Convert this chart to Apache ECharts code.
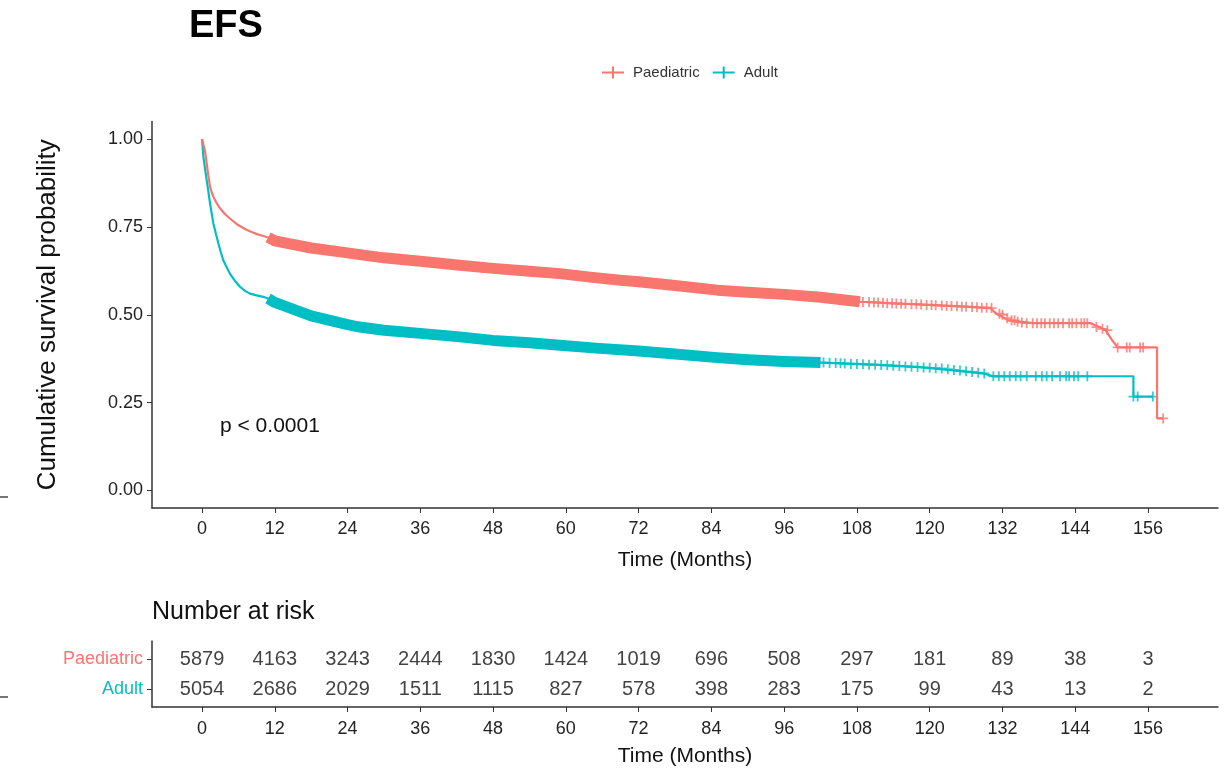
<!DOCTYPE html>
<html><head><meta charset="utf-8">
<script src="https://cdn.jsdelivr.net/npm/echarts@6/dist/echarts.min.js"></script>
<style>html,body{margin:0;padding:0;background:#fff}#c{width:1228px;height:773px}</style>
</head><body><div id="c"></div>
<script>
// ---------- data ----------
const timeTicks = [0,12,24,36,48,60,72,84,96,108,120,132,144,156];
const survTicks = [0,0.25,0.5,0.75,1];
const groups = ['Paediatric','Adult'];

const pedTime = [0,0.2,0.5,0.77,1.05,1.32,1.6,1.87,2.4,2.97,3.7,4.6,5.8,7.4,8.8,10.1,10.9,12,18,24,26,30,36,42.5,48,54,59,64,69,72,78,85,90,96,102,108.5,113,120,126,130,131,133,137,146.5,148,149,150,151,157.5,157.5,158.5];
const pedSurv = [1,0.997,0.965,0.931,0.895,0.864,0.848,0.836,0.818,0.803,0.788,0.774,0.757,0.741,0.731,0.724,0.72,0.71,0.69,0.676,0.671,0.662,0.652,0.641,0.632,0.624,0.617,0.607,0.598,0.594,0.583,0.57,0.564,0.558,0.55,0.537,0.533,0.528,0.523,0.519,0.503,0.484,0.476,0.476,0.465,0.456,0.43,0.407,0.407,0.205,0.205];

const adultTime = [0,0.22,0.5,0.77,1.05,1.32,1.6,1.87,2.3,2.7,3.1,3.5,4.6,5.4,6.3,7.1,7.9,9,10.1,10.9,12,18,24,26,30,36,42.5,48,54,59,65,72,78,85,90,96,102,108,113,118.4,123.4,128.8,130.5,153.6,153.6,156.8];
const adultSurv = [1,0.95,0.915,0.883,0.85,0.817,0.788,0.76,0.73,0.703,0.678,0.655,0.617,0.597,0.579,0.568,0.56,0.555,0.551,0.546,0.535,0.497,0.472,0.465,0.456,0.447,0.437,0.427,0.42,0.413,0.405,0.397,0.388,0.378,0.372,0.367,0.364,0.36,0.356,0.351,0.342,0.333,0.325,0.325,0.267,0.267];

// censoring marks (sparse part)
const pedCensTime = [109,110,110.8,111.5,112.3,113,113.8,114.5,115.3,116,117,117.8,118.6,119.5,120.3,121,122,122.8,123.6,124.5,125.3,126,127,127.8,128.6,129.4,130.2,131.5,132,132.8,133.5,134,134.5,135.2,136,137,137.7,138.4,139,139.8,140.5,141.2,142,143,143.5,144.2,145,145.5,146,147.5,148.5,149.3,151,152.5,153,154.7,155.2,158.5];
const pedCensSurv = [0.536,0.536,0.535,0.535,0.534,0.533,0.533,0.532,0.531,0.531,0.53,0.53,0.529,0.528,0.528,0.527,0.526,0.525,0.525,0.524,0.523,0.523,0.522,0.521,0.52,0.52,0.519,0.503,0.5,0.49,0.484,0.484,0.48,0.478,0.476,0.476,0.476,0.476,0.476,0.476,0.476,0.476,0.476,0.476,0.476,0.476,0.476,0.476,0.476,0.465,0.46,0.456,0.407,0.407,0.407,0.407,0.407,0.205];

const adultCensTime = [102.5,103.5,104.5,105.3,106,107,108,109,110,111,112,113,114,115,116,117,118,119,120,121,122,123,124,125,126,127,128,129,130.5,131.4,132.3,133.2,134.2,135,136,137.5,138.5,139.3,140.2,141.5,142.5,143,143.8,144.5,146,153.6,154.3,156.8];
const adultCensSurv = [0.364,0.363,0.363,0.362,0.361,0.36,0.36,0.359,0.358,0.358,0.357,0.356,0.355,0.354,0.353,0.352,0.351,0.35,0.349,0.348,0.347,0.345,0.343,0.341,0.339,0.337,0.335,0.333,0.325,0.325,0.325,0.325,0.325,0.325,0.325,0.325,0.325,0.325,0.325,0.325,0.325,0.325,0.325,0.325,0.325,0.267,0.267,0.267];

const pedRisk = [5879,4163,3243,2444,1830,1424,1019,696,508,297,181,89,38,3];
const adultRisk = [5054,2686,2029,1511,1115,827,578,398,283,175,99,43,13,2];

// ---------- chart ----------
const RED = '#F8766D', TEAL = '#00BFC4';
const FONT = 'Liberation Sans, Arial, sans-serif';
const cross = 'path://M0,4.1h10v1.8h-10zM4.1,0h1.8v10h-1.8z';
const legendCross = 'path://M0,5h22v2h-22zM10,0h2v12h-2z';

const zip = (a, b) => a.map((v, i) => [v, b[i]]);
const band = (a, b, lo, hi) => zip(a, b).filter(p => p[0] >= lo && p[0] <= hi);

const X_MIN = -8.25, X_MAX = 167.55;
const axisLineStyle = { color: '#333', width: 1.5 };

const chart = echarts.init(document.getElementById('c'), null, { renderer: 'canvas' });
chart.setOption({
  animation: false,
  backgroundColor: '#fff',
  textStyle: { fontFamily: FONT },
  title: {
    text: 'EFS', left: 184, top: 3,
    textStyle: { fontFamily: FONT, fontSize: 38, fontWeight: 'bold', color: '#000' }
  },
  legend: {
    left: 597, top: 60, itemWidth: 22, itemHeight: 12, itemGap: 13,
    data: [{ name: groups[0], icon: legendCross }, { name: groups[1], icon: legendCross }],
    textStyle: { fontFamily: FONT, fontSize: 15, color: '#333', padding: [0, 0, 0, 4] }
  },
  grid: [
    { left: 152, right: 10, top: 121.5, height: 386.5, containLabel: false },
    { left: 152, right: 10, top: 641, height: 66, containLabel: false }
  ],
  xAxis: [
    {
      type: 'value', gridIndex: 0, min: X_MIN, max: X_MAX,
      axisLine: { show: true, onZero: false, lineStyle: axisLineStyle },
      axisTick: { show: true, length: 5, customValues: timeTicks, lineStyle: { color: '#333' } },
      axisLabel: { customValues: timeTicks, fontSize: 18, color: '#222', margin: 12, fontFamily: FONT },
      splitLine: { show: false },
      name: 'Time (Months)', nameLocation: 'middle', nameGap: 42,
      nameTextStyle: { fontSize: 21, color: '#111', fontFamily: FONT }
    },
    {
      type: 'value', gridIndex: 1, min: X_MIN, max: X_MAX,
      axisLine: { show: true, onZero: false, lineStyle: axisLineStyle },
      axisTick: { show: true, length: 5, customValues: timeTicks, lineStyle: { color: '#333' } },
      axisLabel: { customValues: timeTicks, fontSize: 18, color: '#222', margin: 13, fontFamily: FONT },
      splitLine: { show: false },
      name: 'Time (Months)', nameLocation: 'middle', nameGap: 39,
      nameTextStyle: { fontSize: 21, color: '#111', fontFamily: FONT }
    }
  ],
  yAxis: [
    {
      type: 'value', gridIndex: 0, min: -0.05, max: 1.05,
      axisLine: { show: true, onZero: false, lineStyle: axisLineStyle },
      axisTick: { show: true, length: 5, customValues: survTicks, lineStyle: { color: '#333' } },
      axisLabel: { customValues: survTicks, fontSize: 18, color: '#222', margin: 9, fontFamily: FONT,
        formatter: v => v.toFixed(2) },
      splitLine: { show: false },
      name: 'Cumulative survival probability', nameLocation: 'middle', nameGap: 91, nameRotate: 90,
      nameTextStyle: { fontSize: 26, color: '#111', fontFamily: FONT }
    },
    {
      type: 'value', gridIndex: 1, min: 0.4, max: 2.6, inverse: true,
      axisLine: { show: true, onZero: false, lineStyle: axisLineStyle },
      axisTick: { show: true, length: 5, customValues: [1, 2], lineStyle: { color: '#333' } },
      axisLabel: {
        customValues: [1, 2], margin: 9,
        formatter: v => v === 1 ? '{p|' + groups[0] + '}' : '{a|' + groups[1] + '}',
        rich: {
          p: { color: RED, fontSize: 18, fontFamily: FONT },
          a: { color: TEAL, fontSize: 18, fontFamily: FONT }
        }
      },
      splitLine: { show: false }
    }
  ],
  graphic: [
    { type: 'text', left: 220, top: 416, style: { text: 'p < 0.0001', font: '21px ' + FONT, fill: '#111' } },
    { type: 'text', left: 152, top: 600, style: { text: 'Number at risk', font: '25px ' + FONT, fill: '#111' } },
    { type: 'rect', left: 0, top: 496, shape: { width: 8, height: 2 }, style: { fill: '#777' } },
    { type: 'rect', left: 0, top: 696, shape: { width: 8, height: 2 }, style: { fill: '#777' } }
  ],
  series: [
    { name: groups[1], type: 'line', xAxisIndex: 0, yAxisIndex: 0, data: zip(adultTime, adultSurv),
      showSymbol: false, symbol: 'none', lineStyle: { color: TEAL, width: 2.2 }, itemStyle: { color: TEAL }, silent: true },
    { name: groups[1], type: 'line', xAxisIndex: 0, yAxisIndex: 0, data: band(adultTime, adultSurv, 10.9, 102),
      showSymbol: false, symbol: 'none', lineStyle: { color: TEAL, width: 11, join: 'round' }, itemStyle: { color: TEAL }, silent: true },
    { name: groups[1], type: 'scatter', xAxisIndex: 0, yAxisIndex: 0, data: zip(adultCensTime, adultCensSurv),
      symbol: cross, symbolSize: [10, 10], itemStyle: { color: TEAL }, silent: true },
    { name: groups[0], type: 'line', xAxisIndex: 0, yAxisIndex: 0, data: zip(pedTime, pedSurv),
      showSymbol: false, symbol: 'none', lineStyle: { color: RED, width: 2.2 }, itemStyle: { color: RED }, silent: true },
    { name: groups[0], type: 'line', xAxisIndex: 0, yAxisIndex: 0, data: band(pedTime, pedSurv, 10.9, 108.5),
      showSymbol: false, symbol: 'none', lineStyle: { color: RED, width: 11, join: 'round' }, itemStyle: { color: RED }, silent: true },
    { name: groups[0], type: 'scatter', xAxisIndex: 0, yAxisIndex: 0, data: zip(pedCensTime, pedCensSurv),
      symbol: cross, symbolSize: [10, 10], itemStyle: { color: RED }, silent: true },
    { name: 'riskP', type: 'scatter', xAxisIndex: 1, yAxisIndex: 1,
      data: timeTicks.map((t, i) => [t, 1, pedRisk[i]]),
      symbolSize: 1, itemStyle: { color: 'rgba(0,0,0,0)' }, silent: true,
      label: { show: true, position: 'inside', formatter: p => String(p.value[2]), fontSize: 20, color: '#111', fontFamily: FONT } },
    { name: 'riskA', type: 'scatter', xAxisIndex: 1, yAxisIndex: 1,
      data: timeTicks.map((t, i) => [t, 2, adultRisk[i]]),
      symbolSize: 1, itemStyle: { color: 'rgba(0,0,0,0)' }, silent: true,
      label: { show: true, position: 'inside', formatter: p => String(p.value[2]), fontSize: 20, color: '#111', fontFamily: FONT } }
  ]
});
</script>
</body></html>
